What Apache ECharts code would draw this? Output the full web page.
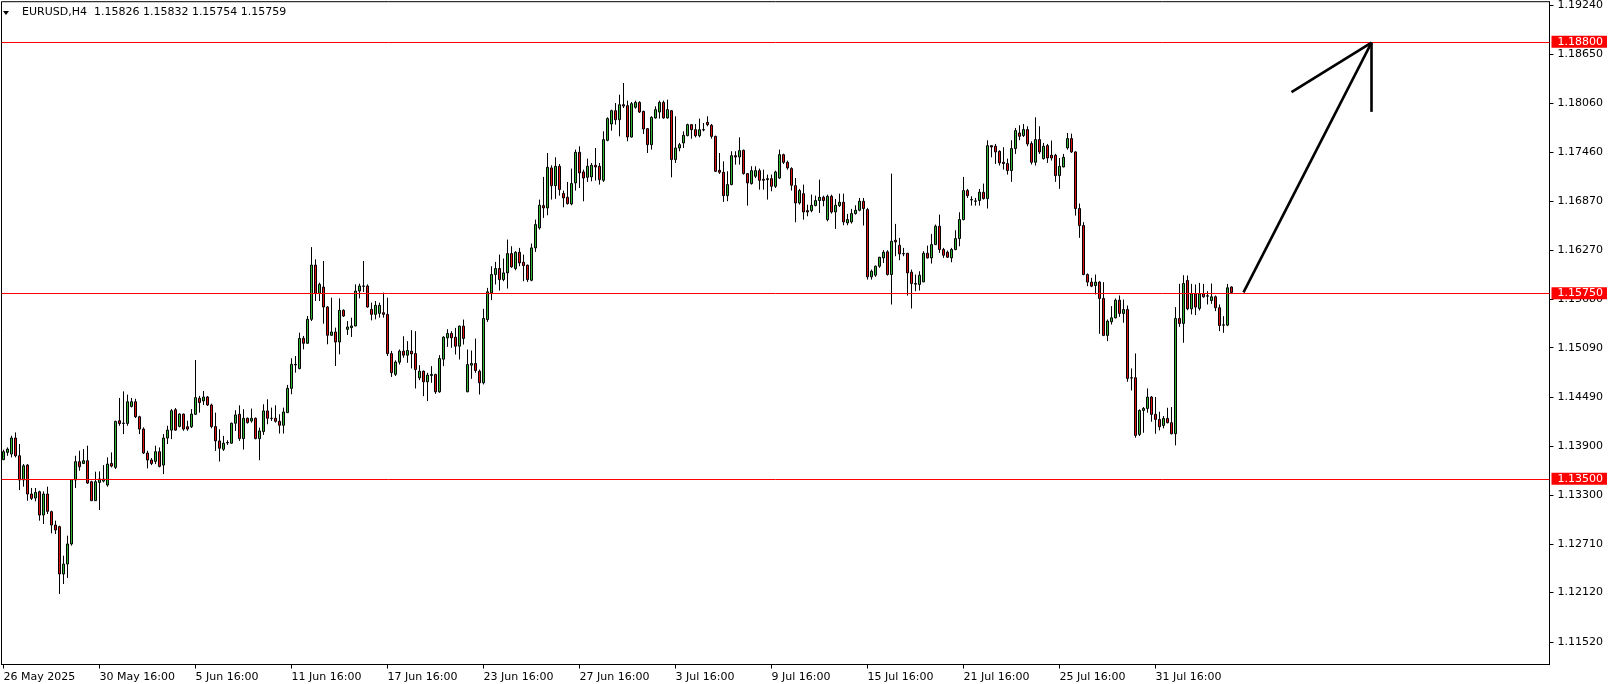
<!DOCTYPE html>
<html><head><meta charset="utf-8">
<script src="https://cdn.jsdelivr.net/npm/echarts@6/dist/echarts.min.js"></script>
<style>html,body{margin:0;padding:0;background:#fff}#c{width:1614px;height:684px}</style>
</head><body><div id="c"></div>
<script>
const symbolName = 'EURUSD';
const timeframe = 'H4';
const xTickLabels = ['26 May 2025','30 May 16:00','5 Jun 16:00','11 Jun 16:00','17 Jun 16:00','23 Jun 16:00','27 Jun 16:00','3 Jul 16:00','9 Jul 16:00','15 Jul 16:00','21 Jul 16:00','25 Jul 16:00','31 Jul 16:00'];
const yTickValues = [1.19240,1.18650,1.18060,1.17460,1.16870,1.16270,1.15680,1.15090,1.14490,1.13900,1.13300,1.12710,1.12120,1.11520];
const levels = [1.18800, 1.15750, 1.13500];
const arrowSegments = [
  [[310, 1.15760], [342, 1.18790]],
  [[342, 1.18790], [322, 1.18190]],
  [[342, 1.18790], [342, 1.17950]]
];
const opens = [1.13731,1.13820,1.13800,1.13994,1.13779,1.13485,1.13666,1.13315,1.13266,1.13343,1.13060,1.13315,1.13101,1.12939,1.12919,1.12345,1.12466,1.12709,1.13485,1.13707,1.13686,1.13719,1.13464,1.13234,1.13456,1.13472,1.13424,1.13686,1.13638,1.14204,1.14171,1.14171,1.14377,1.14434,1.14252,1.14103,1.13812,1.13727,1.13711,1.13828,1.13666,1.13994,1.14090,1.14337,1.14135,1.14284,1.14131,1.14131,1.14282,1.14476,1.14444,1.14492,1.14395,1.14133,1.13959,1.13858,1.13935,1.13931,1.14173,1.14282,1.13987,1.14234,1.14201,1.14234,1.13987,1.14072,1.14323,1.14234,1.14234,1.14197,1.14149,1.14302,1.14597,1.14888,1.14836,1.15203,1.15143,1.15434,1.16092,1.15749,1.15825,1.15583,1.15240,1.15280,1.15159,1.15543,1.15312,1.15333,1.15353,1.15777,1.15838,1.15838,1.15555,1.15494,1.15506,1.15514,1.15494,1.15018,1.14767,1.14914,1.15048,1.14999,1.15048,1.15019,1.14724,1.14805,1.14676,1.14753,1.14765,1.14555,1.14950,1.15209,1.15262,1.15217,1.15108,1.15351,1.14555,1.14878,1.14898,1.14805,1.14664,1.15431,1.15755,1.15977,1.16050,1.15916,1.15997,1.16231,1.16050,1.16247,1.16126,1.16090,1.15908,1.16300,1.16542,1.16813,1.16785,1.17270,1.17055,1.17290,1.16959,1.16914,1.16833,1.17088,1.17459,1.17221,1.17157,1.17161,1.17302,1.17290,1.17120,1.17605,1.17803,1.17964,1.17855,1.18037,1.18025,1.17645,1.18005,1.18065,1.17956,1.17746,1.17552,1.17876,1.17948,1.18065,1.17876,1.17964,1.17371,1.17512,1.17573,1.17662,1.17795,1.17734,1.17661,1.17734,1.17823,1.17787,1.17653,1.17241,1.17217,1.16934,1.17068,1.17419,1.17403,1.17484,1.17201,1.17080,1.17169,1.17237,1.17132,1.17128,1.17140,1.17047,1.17148,1.17431,1.17338,1.17262,1.17055,1.16845,1.16958,1.16752,1.16752,1.16813,1.16874,1.16914,1.16643,1.16926,1.16736,1.16813,1.16854,1.16603,1.16615,1.16716,1.16757,1.16866,1.16765,1.15949,1.15969,1.16078,1.16179,1.16252,1.15977,1.16393,1.16332,1.16231,1.16235,1.16005,1.15860,1.15856,1.15888,1.16235,1.16179,1.16340,1.16563,1.16280,1.16248,1.16179,1.16280,1.16413,1.16643,1.16995,1.16886,1.16866,1.16874,1.16975,1.16898,1.17540,1.17533,1.17472,1.17339,1.17323,1.17238,1.17505,1.17694,1.17662,1.17735,1.17565,1.17339,1.17614,1.17383,1.17541,1.17424,1.17424,1.17177,1.17282,1.17513,1.17626,1.17464,1.16777,1.16571,1.15977,1.15885,1.15844,1.15885,1.15687,1.15238,1.15404,1.15452,1.15666,1.15505,1.15553,1.14721,1.14725,1.14038,1.14329,1.14353,1.14491,1.14281,1.14220,1.14147,1.14232,1.14180,1.14046,1.15444,1.15384,1.15905,1.15561,1.15743,1.15566,1.15743,1.15715,1.15662,1.15707,1.15574,1.15363,1.15363,1.15826];
const highs = [1.13852,1.13880,1.14022,1.14062,1.13921,1.13678,1.13678,1.13388,1.13388,1.13355,1.13347,1.13404,1.13113,1.12992,1.12931,1.12567,1.12810,1.13497,1.13779,1.13840,1.13860,1.13901,1.13476,1.13586,1.13590,1.13666,1.13759,1.13820,1.14204,1.14480,1.14560,1.14520,1.14480,1.14470,1.14264,1.14123,1.13840,1.13751,1.13901,1.13880,1.14042,1.14143,1.14345,1.14357,1.14293,1.14290,1.14204,1.14345,1.14941,1.14504,1.14565,1.14504,1.14411,1.14302,1.14100,1.14020,1.13967,1.14181,1.14331,1.14391,1.14343,1.14242,1.14351,1.14242,1.14121,1.14403,1.14464,1.14363,1.14391,1.14282,1.14363,1.14638,1.14961,1.14989,1.15272,1.15232,1.15474,1.16310,1.16161,1.15878,1.16141,1.15595,1.15696,1.15333,1.15688,1.15555,1.15413,1.15454,1.15858,1.15866,1.16141,1.15858,1.15636,1.15656,1.15636,1.15757,1.15696,1.15050,1.14937,1.15068,1.15229,1.15169,1.15302,1.15290,1.14878,1.14813,1.14785,1.14866,1.14773,1.14999,1.15229,1.15314,1.15290,1.15330,1.15359,1.15431,1.15068,1.15056,1.15201,1.14825,1.15561,1.15815,1.16078,1.16130,1.16219,1.16171,1.16401,1.16320,1.16260,1.16300,1.16219,1.16098,1.16353,1.16643,1.16886,1.17161,1.17451,1.17302,1.17399,1.17318,1.16995,1.17100,1.17262,1.17492,1.17532,1.17249,1.17383,1.17330,1.17512,1.17330,1.17714,1.17884,1.17977,1.18057,1.18158,1.18300,1.18086,1.18070,1.18086,1.18078,1.17964,1.17754,1.17896,1.18017,1.18086,1.18086,1.18098,1.17973,1.17896,1.17573,1.17714,1.17807,1.17803,1.17803,1.17868,1.17815,1.17896,1.17803,1.17661,1.17451,1.17350,1.17229,1.17472,1.17472,1.17641,1.17492,1.17209,1.17290,1.17290,1.17262,1.17249,1.17189,1.17189,1.17237,1.17492,1.17443,1.17358,1.17278,1.17148,1.17015,1.17068,1.16825,1.16946,1.16934,1.17128,1.16934,1.16946,1.16946,1.16894,1.16958,1.16958,1.16712,1.16773,1.16817,1.16906,1.16906,1.16785,1.16037,1.16086,1.16191,1.16272,1.16272,1.17201,1.16591,1.16421,1.16300,1.16239,1.16037,1.15977,1.16017,1.16260,1.16328,1.16470,1.16583,1.16704,1.16300,1.16268,1.16300,1.16514,1.16732,1.17161,1.17015,1.16926,1.16906,1.17015,1.17080,1.17605,1.17545,1.17561,1.17484,1.17521,1.17383,1.17606,1.17755,1.17787,1.17803,1.17775,1.17593,1.17884,1.17775,1.17573,1.17561,1.17602,1.17440,1.17391,1.17440,1.17694,1.17686,1.17472,1.16838,1.16612,1.15990,1.15937,1.15977,1.15897,1.15885,1.15432,1.15594,1.15687,1.15723,1.15674,1.15602,1.14838,1.15020,1.14341,1.14370,1.14596,1.14503,1.14491,1.14313,1.14261,1.14361,1.14370,1.15582,1.15864,1.15969,1.15965,1.15864,1.15856,1.15876,1.15864,1.15775,1.15868,1.15723,1.15614,1.15472,1.15864,1.15832];
const lows = [1.13727,1.13779,1.13759,1.13759,1.13363,1.13404,1.13234,1.13242,1.13226,1.12992,1.12951,1.13072,1.12838,1.12830,1.12103,1.12224,1.12297,1.12689,1.13388,1.13598,1.13678,1.13436,1.13234,1.13234,1.13121,1.13456,1.13404,1.13638,1.13618,1.14143,1.14042,1.14143,1.14365,1.14236,1.14042,1.13800,1.13626,1.13666,1.13678,1.13638,1.13557,1.13921,1.13981,1.14082,1.14123,1.14082,1.14082,1.14115,1.14274,1.14302,1.14395,1.14383,1.14113,1.13838,1.13709,1.13838,1.13911,1.13927,1.14080,1.13959,1.13854,1.14169,1.14181,1.13979,1.13725,1.14032,1.14161,1.14201,1.14181,1.14048,1.14048,1.14300,1.14525,1.14787,1.14828,1.15070,1.15140,1.15413,1.15656,1.15656,1.15381,1.15131,1.15235,1.14868,1.15009,1.15462,1.15244,1.15220,1.15350,1.15688,1.15765,1.15575,1.15421,1.15434,1.15454,1.15454,1.14989,1.14735,1.14747,1.14886,1.14967,1.14906,1.14838,1.14595,1.14696,1.14502,1.14442,1.14664,1.14530,1.14543,1.14866,1.15100,1.15088,1.15007,1.14947,1.15128,1.14550,1.14712,1.14785,1.14522,1.14644,1.15403,1.15666,1.15856,1.15783,1.15896,1.15807,1.16058,1.16029,1.16078,1.15896,1.15888,1.15896,1.16252,1.16522,1.16664,1.16696,1.16886,1.16894,1.16934,1.16793,1.16825,1.16817,1.16995,1.17027,1.16866,1.17100,1.17108,1.17116,1.17068,1.17100,1.17593,1.17722,1.17795,1.17653,1.17997,1.17593,1.17640,1.17989,1.17936,1.17682,1.17451,1.17492,1.17868,1.17868,1.17868,1.17868,1.17156,1.17330,1.17472,1.17512,1.17653,1.17625,1.17641,1.17641,1.17714,1.17775,1.17625,1.17221,1.17197,1.16858,1.16866,1.17060,1.17310,1.17310,1.17189,1.16813,1.17068,1.17148,1.17007,1.17007,1.16886,1.16987,1.17027,1.17136,1.17318,1.17249,1.16995,1.16611,1.16825,1.16643,1.16684,1.16732,1.16805,1.16724,1.16805,1.16623,1.16716,1.16530,1.16797,1.16575,1.16575,1.16595,1.16704,1.16744,1.16571,1.15916,1.15916,1.15949,1.16058,1.16118,1.15965,1.15613,1.16199,1.16151,1.16199,1.15722,1.15565,1.15775,1.15783,1.15884,1.16171,1.16110,1.16336,1.16239,1.16179,1.16179,1.16126,1.16272,1.16320,1.16635,1.16906,1.16813,1.16813,1.16813,1.16886,1.16777,1.17399,1.17319,1.17299,1.17250,1.17189,1.17101,1.17440,1.17606,1.17646,1.17533,1.17311,1.17299,1.17440,1.17371,1.17331,1.17359,1.17101,1.17016,1.17278,1.17492,1.17452,1.16692,1.16422,1.15969,1.15836,1.15824,1.15735,1.15258,1.15230,1.15169,1.15371,1.15444,1.15464,1.15392,1.14676,1.14571,1.13998,1.14018,1.14058,1.14301,1.14192,1.14046,1.14087,1.14111,1.14172,1.14038,1.13905,1.15343,1.15149,1.15545,1.15493,1.15485,1.15541,1.15695,1.15614,1.15622,1.15533,1.15291,1.15270,1.15351,1.15754];
const closes = [1.13828,1.13860,1.13994,1.13779,1.13485,1.13658,1.13315,1.13262,1.13335,1.13060,1.13315,1.13105,1.12939,1.12879,1.12345,1.12466,1.12709,1.13489,1.13707,1.13646,1.13719,1.13448,1.13234,1.13464,1.13497,1.13497,1.13678,1.13654,1.14196,1.14171,1.14175,1.14434,1.14434,1.14252,1.14103,1.13812,1.13727,1.13686,1.13828,1.13650,1.13994,1.14090,1.14325,1.14090,1.14284,1.14103,1.14103,1.14284,1.14484,1.14424,1.14492,1.14395,1.14133,1.13959,1.13870,1.13931,1.13940,1.14173,1.14274,1.13987,1.14234,1.14181,1.14234,1.13987,1.14080,1.14323,1.14234,1.14230,1.14197,1.14149,1.14310,1.14597,1.14888,1.14880,1.15203,1.15143,1.15434,1.16092,1.15749,1.15858,1.15583,1.15240,1.15280,1.15159,1.15543,1.15474,1.15341,1.15353,1.15777,1.15838,1.15834,1.15583,1.15494,1.15603,1.15603,1.15494,1.15018,1.14787,1.14916,1.15048,1.14999,1.15056,1.15015,1.14825,1.14805,1.14676,1.14757,1.14765,1.14555,1.14959,1.15217,1.15262,1.15209,1.15108,1.15351,1.15201,1.14886,1.14898,1.14813,1.14664,1.15444,1.15767,1.15977,1.16050,1.15916,1.15997,1.16231,1.16070,1.16247,1.16118,1.16086,1.15916,1.16300,1.16583,1.16817,1.16785,1.17278,1.17055,1.17290,1.17007,1.16906,1.16837,1.17080,1.17459,1.17209,1.17148,1.17290,1.17302,1.17282,1.17128,1.17613,1.17868,1.17964,1.17855,1.18037,1.18021,1.17645,1.18049,1.18065,1.17948,1.17742,1.17552,1.17884,1.17977,1.18065,1.17876,1.17977,1.17371,1.17512,1.17552,1.17666,1.17795,1.17734,1.17661,1.17734,1.17730,1.17795,1.17653,1.17229,1.17217,1.16934,1.17068,1.17419,1.17403,1.17480,1.17201,1.17088,1.17237,1.17237,1.17120,1.17120,1.17140,1.17047,1.17221,1.17431,1.17338,1.17270,1.17060,1.16845,1.16995,1.16736,1.16736,1.16817,1.16874,1.16914,1.16874,1.16926,1.16736,1.16817,1.16854,1.16615,1.16643,1.16716,1.16757,1.16866,1.16777,1.15949,1.16017,1.16078,1.16187,1.16248,1.15977,1.16381,1.16373,1.16227,1.16227,1.15997,1.15868,1.15868,1.15969,1.16235,1.16179,1.16340,1.16563,1.16280,1.16211,1.16187,1.16280,1.16413,1.16643,1.16995,1.16934,1.16882,1.16870,1.16975,1.16898,1.17540,1.17524,1.17464,1.17331,1.17323,1.17238,1.17505,1.17723,1.17654,1.17735,1.17561,1.17339,1.17614,1.17464,1.17533,1.17391,1.17391,1.17177,1.17290,1.17399,1.17626,1.17464,1.16777,1.16571,1.15977,1.15885,1.15836,1.15885,1.15687,1.15238,1.15412,1.15452,1.15666,1.15505,1.15553,1.14717,1.14725,1.14026,1.14329,1.14353,1.14491,1.14281,1.14220,1.14131,1.14232,1.14180,1.14046,1.15444,1.15384,1.15868,1.15561,1.15743,1.15582,1.15743,1.15707,1.15719,1.15707,1.15574,1.15359,1.15367,1.15816,1.15759];

const totalSlots = 387;
const barsPerLabel = 24;
const categories = Array.from({length: totalSlots}, (_, i) => String(i));
const candles = opens.map((o, i) => [o, closes[i], lows[i], highs[i]]);
const last = opens.length - 1;
const headerText = symbolName + ',' + timeframe + '  ' + [opens[last], highs[last], lows[last], closes[last]].map(v => v.toFixed(5)).join(' ');

const FONT = 'DejaVu Sans';
const chart = echarts.init(document.getElementById('c'), null, {renderer: 'canvas'});
const isLabelIdx = (i) => i % barsPerLabel === 0 && i / barsPerLabel < xTickLabels.length;

const markData = levels.map(v => ({
  yAxis: v,
  lineStyle: {color: '#ff0000', width: 1, type: 'solid'},
  label: {show: true}
}));
arrowSegments.forEach(seg => {
  markData.push([
    {coord: seg[0], lineStyle: {color: '#000', width: 2.6, type: 'solid'}, label: {show: false}},
    {coord: seg[1]}
  ]);
});

chart.setOption({
  animation: false,
  backgroundColor: '#fff',
  title: {
    text: headerText, left: 22, top: 7, padding: 0,
    textStyle: {fontFamily: FONT, fontSize: 11, fontWeight: 'normal', color: '#000'}
  },
  graphic: [{
    type: 'polygon', shape: {points: [[3, 11], [9, 11], [6, 15]]},
    style: {fill: '#000'}
  }],
  grid: {left: 1.5, right: 64.5, top: 0.5, bottom: 19.5, show: true, borderColor: '#000', borderWidth: 1, backgroundColor: 'transparent'},
  xAxis: {
    type: 'category', data: categories, boundaryGap: true,
    axisLine: {show: true, lineStyle: {color: '#000', width: 1}},
    axisTick: {show: true, alignWithLabel: true, interval: (i) => isLabelIdx(i), length: 4, lineStyle: {color: '#000'}},
    axisLabel: {
      show: true, interval: (i) => isLabelIdx(i), align: 'left', margin: 7,
      fontFamily: FONT, fontSize: 11, color: '#000',
      formatter: (v, i) => xTickLabels[Math.round(i / barsPerLabel)] || ''
    },
    splitLine: {show: false}
  },
  yAxis: {
    type: 'value', position: 'right', scale: true,
    min: 1.112473, max: 1.19286,
    axisLine: {show: true, lineStyle: {color: '#000', width: 1}},
    axisTick: {show: true, customValues: yTickValues, length: 4, lineStyle: {color: '#000'}},
    axisLabel: {
      show: true, customValues: yTickValues, margin: 8,
      fontFamily: FONT, fontSize: 11, color: '#000',
      formatter: (v) => Number(v).toFixed(5)
    },
    splitLine: {show: false}
  },
  series: [{
    type: 'candlestick',
    data: candles,
    barWidth: 2,
    itemStyle: {
      color: '#2fb52f', color0: '#e01010',
      borderColor: '#000', borderColor0: '#000', borderColorDoji: '#000', borderWidth: 1
    },
    markLine: {
      silent: true, symbol: ['none', 'none'], animation: false, precision: 5,
      label: {
        show: true, position: 'end', distance: 2,
        formatter: (p) => Number(p.value).toFixed(5),
        backgroundColor: '#ff0000', color: '#fff',
        fontFamily: FONT, fontSize: 11, lineHeight: 12,
        padding: [0, 4, 0, 6]
      },
      data: markData
    }
  }]
});
</script>
</body></html>
